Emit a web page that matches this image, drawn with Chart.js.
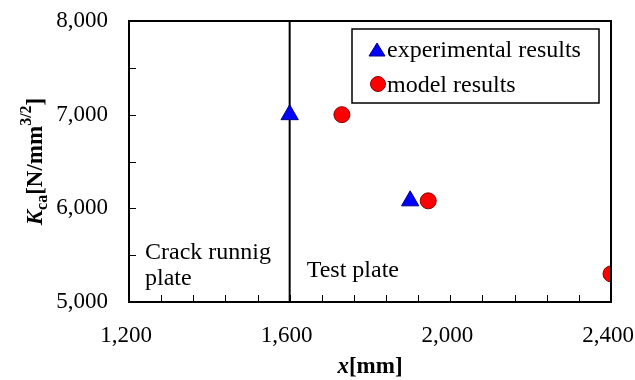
<!DOCTYPE html>
<html>
<head>
<meta charset="utf-8">
<script src="https://cdn.jsdelivr.net/npm/chart.js@4.4.0/dist/chart.umd.min.js"></script>
<style>
  html, body { margin: 0; padding: 0; background: #fff; }
  #wrap { width: 635px; height: 380px; }
</style>
</head>
<body>
<div id="wrap"><canvas id="c" width="635" height="380"></canvas></div>
<script>
// measured points
const expX = [1600, 1900];
const expY = [7000, 6080];
const modelX = [1730, 1945, 2400];
const modelY = [7000, 6080, 5300];

// boundary between crack running plate and test plate
const boundaryX = [1600, 1600];
const boundaryY = [5000, 8000];

const xTicks = [1200, 1600, 2000, 2400];
const yTicks = [5000, 6000, 7000, 8000];

const legendLabels = ['experimental results', 'model results'];

const SERIF = '"Liberation Serif", "Times New Roman", serif';

const toPoints = (xs, ys) => xs.map((x, i) => ({ x: x, y: ys[i] }));

// box, minor ticks, axis titles, notes and legend
const decor = {
    id: 'decor',
    afterDatasetsDraw(chart) {
        const ctx = chart.ctx;
        const a = chart.chartArea;
        const sx = chart.scales.x;
        const sy = chart.scales.y;

        ctx.save();

        // inward minor ticks
        ctx.strokeStyle = '#000';
        ctx.lineWidth = 1;
        for (let v = 1200; v <= 2400; v += 80) {
            const px = Math.round(sx.getPixelForValue(v)) + 0.5;
            ctx.beginPath();
            ctx.moveTo(px, a.bottom);
            ctx.lineTo(px, a.bottom - 7);
            ctx.stroke();
        }
        for (let v = 5000; v <= 8000; v += 500) {
            const py = Math.round(sy.getPixelForValue(v)) + 0.5;
            ctx.beginPath();
            ctx.moveTo(a.left, py);
            ctx.lineTo(a.left + 7, py);
            ctx.stroke();
        }

        // plot frame
        ctx.lineWidth = 2;
        ctx.strokeRect(a.left, a.top, a.right - a.left, a.bottom - a.top);

        // region notes
        ctx.fillStyle = '#000';
        ctx.font = '24px ' + SERIF;
        ctx.textBaseline = 'alphabetic';
        ctx.textAlign = 'left';
        ctx.fillText('Crack runnig', a.left + 16, 259);
        ctx.fillText('plate', a.left + 16, 285);
        ctx.fillText('Test plate', sx.getPixelForValue(1600) + 17, 277);

        // legend
        const lx = 352, ly = 29, lw = 247, lh = 74;
        ctx.fillStyle = '#fff';
        ctx.fillRect(lx, ly, lw, lh);
        ctx.lineWidth = 1.5;
        ctx.strokeStyle = '#000';
        ctx.strokeRect(lx, ly, lw, lh);

        // triangle marker
        ctx.fillStyle = '#0000ff';
        ctx.strokeStyle = '#00008b';
        ctx.lineWidth = 1;
        ctx.beginPath();
        ctx.moveTo(377, 43);
        ctx.lineTo(385, 56);
        ctx.lineTo(369, 56);
        ctx.closePath();
        ctx.fill();
        ctx.stroke();
        // circle marker
        ctx.fillStyle = '#ff0000';
        ctx.strokeStyle = '#8b0000';
        ctx.beginPath();
        ctx.arc(378, 84, 7.5, 0, Math.PI * 2);
        ctx.fill();
        ctx.stroke();

        ctx.fillStyle = '#000';
        ctx.font = '24px ' + SERIF;
        ctx.fillText(legendLabels[0], 387, 57);
        ctx.fillText(legendLabels[1], 387, 92);

        // x axis title: x[mm]
        const cx = (a.left + a.right) / 2;
        ctx.font = 'bold italic 23px ' + SERIF;
        const w1 = ctx.measureText('x').width;
        ctx.font = 'bold 23px ' + SERIF;
        const w2 = ctx.measureText('[mm]').width;
        let x0 = cx - (w1 + w2) / 2;
        ctx.font = 'bold italic 23px ' + SERIF;
        ctx.fillText('x', x0, 373);
        ctx.font = 'bold 23px ' + SERIF;
        ctx.fillText('[mm]', x0 + w1, 373);

        // y axis title: K_ca[N/mm^(3/2)]
        const cy = (a.top + a.bottom) / 2;
        ctx.translate(42, cy);
        ctx.rotate(-Math.PI / 2);
        const parts = [
            { t: 'K', f: 'bold italic 23px ', dy: 0 },
            { t: 'ca', f: 'bold 16px ', dy: 5 },
            { t: '[N/mm', f: 'bold 23px ', dy: 0 },
            { t: '3/2', f: 'bold 16px ', dy: -11 },
            { t: ']', f: 'bold 23px ', dy: 0 }
        ];
        let total = 0;
        parts.forEach(p => {
            ctx.font = p.f + SERIF;
            p.w = ctx.measureText(p.t).width;
            total += p.w;
        });
        let px = -total / 2;
        parts.forEach(p => {
            ctx.font = p.f + SERIF;
            ctx.fillText(p.t, px, p.dy);
            px += p.w;
        });

        ctx.restore();
    }
};

new Chart(document.getElementById('c'), {
    type: 'scatter',
    data: {
        datasets: [
            {
                label: legendLabels[0],
                data: toPoints(expX, expY),
                pointStyle: 'triangle',
                pointRadius: 10,
                backgroundColor: '#0000ff',
                borderColor: '#00008b',
                borderWidth: 1
            },
            {
                label: legendLabels[1],
                data: toPoints(modelX, modelY),
                pointStyle: 'circle',
                pointRadius: 8,
                backgroundColor: '#ff0000',
                borderColor: '#8b0000',
                borderWidth: 1
            },
            {
                type: 'line',
                label: 'boundary',
                data: toPoints(boundaryX, boundaryY),
                borderColor: '#000',
                borderWidth: 2,
                pointRadius: 0,
                fill: false
            }
        ]
    },
    options: {
        responsive: false,
        animation: false,
        layout: { padding: { top: 21, right: 24, left: 0, bottom: 0 } },
        plugins: {
            legend: { display: false },
            tooltip: { enabled: false }
        },
        scales: {
            x: {
                type: 'linear',
                min: 1200,
                max: 2400,
                afterFit: (s) => {
                    s.height = 78;
                    s.paddingLeft = 0;
                    s.paddingRight = 0;
                },
                afterBuildTicks: (s) => { s.ticks = xTicks.map(v => ({ value: v })); },
                grid: { display: false, drawTicks: false },
                border: { display: false },
                ticks: {
                    color: '#000',
                    padding: 20,
                    labelOffset: -3,
                    font: { family: SERIF, size: 23 },
                    callback: (v) => v.toLocaleString('en-US')
                }
            },
            y: {
                type: 'linear',
                min: 5000,
                max: 8000,
                afterFit: (s) => {
                    s.width = 129;
                    s.paddingTop = 0;
                    s.paddingBottom = 0;
                },
                afterBuildTicks: (s) => { s.ticks = yTicks.map(v => ({ value: v })); },
                grid: { display: false, drawTicks: false },
                border: { display: false },
                ticks: {
                    color: '#000',
                    padding: 21,
                    font: { family: SERIF, size: 23 },
                    callback: (v) => v.toLocaleString('en-US')
                }
            }
        }
    },
    plugins: [decor]
});
</script>
</body>
</html>
